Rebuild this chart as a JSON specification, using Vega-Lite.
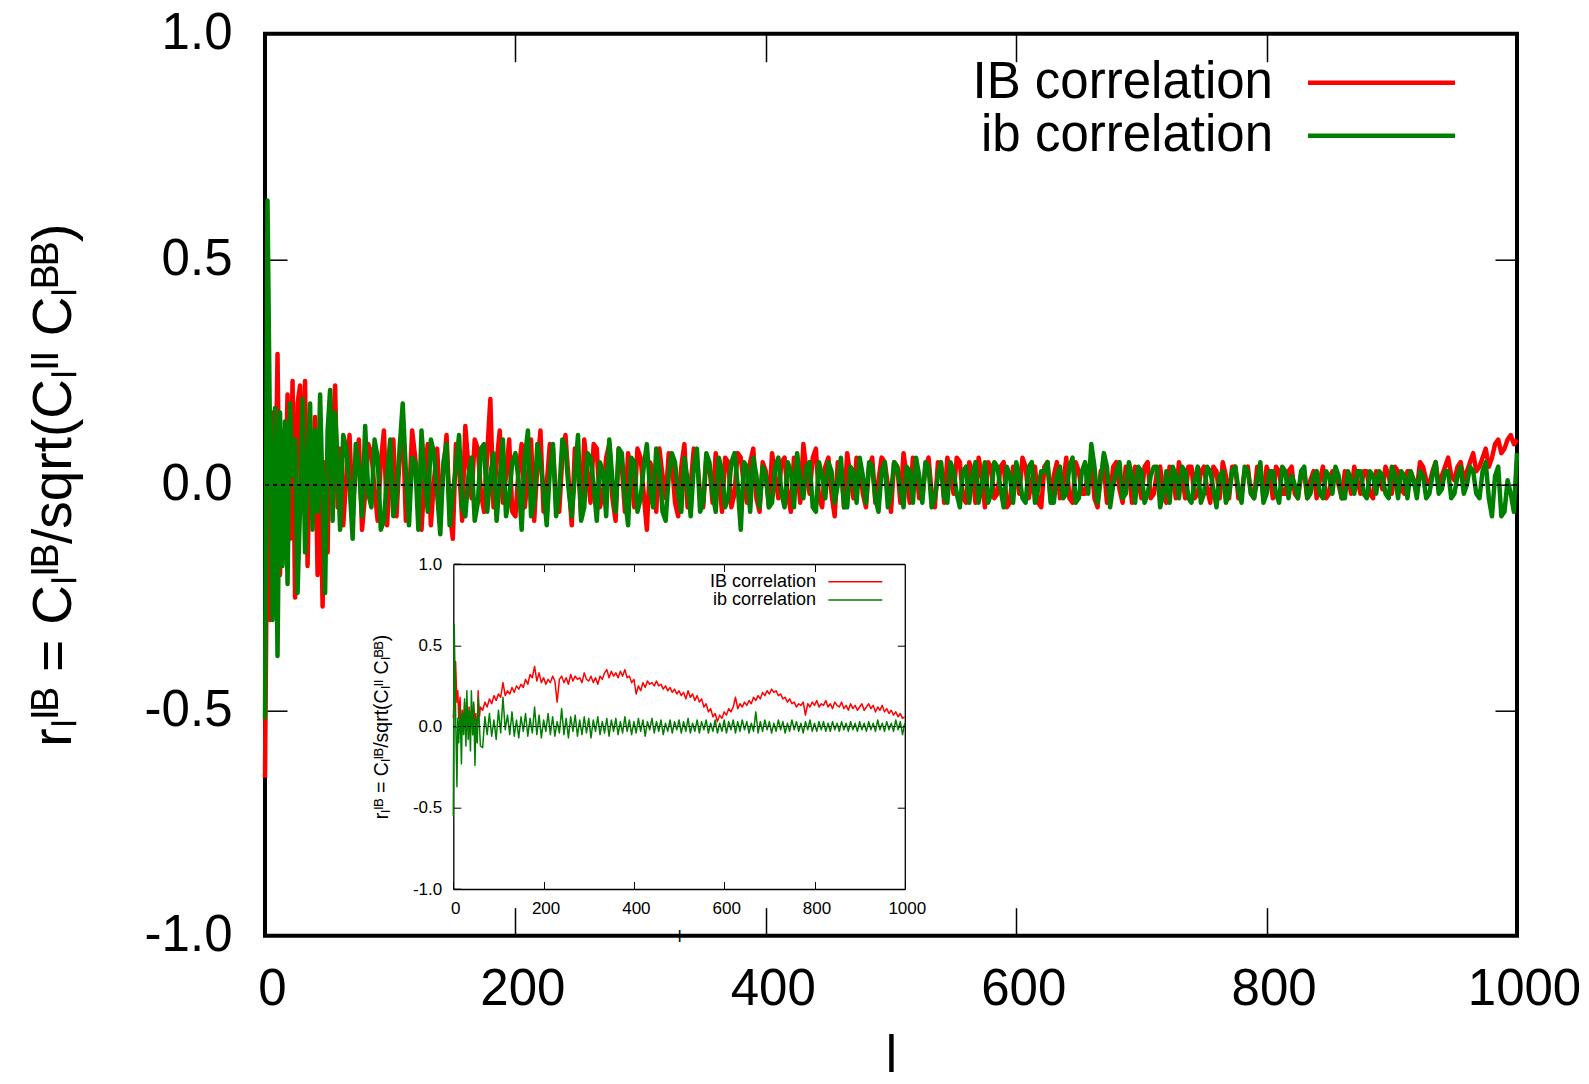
{
"$schema": "https://vega.github.io/schema/vega-lite/v6.json",
"width": 1252, "height": 902,
"autosize": {"type": "none"},
"padding": {"left": 265, "top": 33.7, "right": 72, "bottom": 148.3},
"background": "white",
"config": {
  "font": "Liberation Sans",
  "view": {"stroke": "black", "strokeWidth": 4},
  "axis": {"grid": false, "tickColor": "black", "labelColor": "black", "titleColor": "black", "domainColor": "black", "titleFontWeight": "normal", "labelFlush": false, "labelOverlap": false, "labelLimit": 500, "titleLimit": 2000},
  "legend": {"labelColor": "black", "labelLimit": 1000}
},
"datasets": {
"main": [
{"l":0,"a":-0.65,"b":-0.52},{"l":2,"a":0.05,"b":0.63},{"l":4,"a":-0.30,"b":0.10},{"l":6,"a":0.16,"b":-0.30},{"l":8,"a":-0.10,"b":0.17},{"l":10,"a":0.29,"b":-0.38},{"l":12,"a":-0.20,"b":0.16},{"l":14,"a":0.12,"b":-0.18},{"l":16,"a":-0.05,"b":0.14},{"l":18,"a":0.20,"b":-0.22},{"l":20,"a":-0.12,"b":0.18},{"l":22,"a":0.23,"b":0.02},{"l":24,"a":-0.25,"b":0.10},{"l":26,"a":0.18,"b":-0.24},{"l":28,"a":0.22,"b":-0.05},{"l":30,"a":-0.05,"b":0.19},{"l":32,"a":0.23,"b":-0.15},{"l":34,"a":-0.18,"b":0.05},{"l":36,"a":0.10,"b":0.18},{"l":38,"a":-0.05,"b":-0.10},{"l":40,"a":0.15,"b":0.12},{"l":42,"a":-0.20,"b":-0.06},{"l":44,"a":0.08,"b":0.20},{"l":46,"a":-0.27,"b":-0.02},{"l":48,"a":0.05,"b":-0.24},{"l":50,"a":-0.15,"b":0.12},{"l":52,"a":0.17,"b":0.21},{"l":54,"a":0.10,"b":-0.08},{"l":56,"a":0.22,"b":0.16},{"l":58,"a":-0.05,"b":0.05},{"l":60,"a":0.08,"b":-0.10},
{"l":65,"a":0.02,"b":0.08},{"l":70,"a":-0.06,"b":-0.12},{"l":75,"a":0.10,"b":0.04},{"l":80,"a":-0.02,"b":0.13},{"l":85,"a":0.07,"b":-0.05},{"l":90,"a":-0.08,"b":0.06},{"l":95,"a":0.12,"b":-0.08},{"l":100,"a":0.03,"b":0.10},{"l":105,"a":-0.07,"b":-0.03},{"l":110,"a":0.14,"b":0.18},{"l":115,"a":-0.04,"b":-0.09},{"l":120,"a":0.06,"b":0.05},{"l":125,"a":-0.10,"b":0.12},{"l":130,"a":0.09,"b":-0.06},{"l":135,"a":0.01,"b":0.07},{"l":140,"a":-0.05,"b":-0.11},{"l":145,"a":0.11,"b":0.09},{"l":150,"a":-0.12,"b":-0.02},{"l":155,"a":0.04,"b":0.11},{"l":160,"a":0.13,"b":-0.07},{"l":165,"a":-0.03,"b":0.06},{"l":170,"a":0.08,"b":-0.04},{"l":175,"a":-0.06,"b":0.09},{"l":180,"a":0.19,"b":0.02},{"l":185,"a":0.05,"b":-0.08},{"l":190,"a":-0.04,"b":0.10},{"l":195,"a":0.10,"b":-0.03},{"l":200,"a":-0.07,"b":0.07},
{"l":205,"a":0.09,"b":-0.10},{"l":210,"a":0.02,"b":0.12},{"l":215,"a":-0.08,"b":-0.04},{"l":220,"a":0.12,"b":0.05},{"l":225,"a":0.00,"b":-0.09},{"l":230,"a":0.08,"b":0.09},{"l":235,"a":-0.06,"b":-0.02},{"l":240,"a":0.11,"b":0.08},{"l":245,"a":-0.09,"b":-0.07},{"l":250,"a":0.05,"b":0.11},{"l":255,"a":0.10,"b":-0.05},{"l":260,"a":-0.04,"b":0.06},{"l":265,"a":0.08,"b":-0.08},{"l":270,"a":-0.02,"b":0.03},{"l":275,"a":0.09,"b":0.10},{"l":280,"a":-0.08,"b":-0.06},{"l":285,"a":0.04,"b":0.07},{"l":290,"a":0.07,"b":-0.09},{"l":295,"a":-0.05,"b":0.05},{"l":300,"a":0.06,"b":-0.03},
{"l":305,"a":-0.10,"b":0.09},{"l":310,"a":0.03,"b":-0.05},{"l":315,"a":0.08,"b":0.04},{"l":320,"a":-0.03,"b":-0.08},{"l":325,"a":0.05,"b":0.07},{"l":330,"a":-0.07,"b":-0.02},{"l":335,"a":0.09,"b":0.06},{"l":340,"a":0.00,"b":-0.07},{"l":345,"a":0.06,"b":0.08},{"l":350,"a":-0.05,"b":-0.04},{"l":355,"a":0.04,"b":0.05},{"l":360,"a":0.07,"b":-0.06},{"l":365,"a":-0.06,"b":0.03},{"l":370,"a":0.05,"b":-0.03},{"l":375,"a":-0.02,"b":0.07},{"l":380,"a":0.06,"b":-0.10},{"l":385,"a":-0.04,"b":0.04},{"l":390,"a":0.08,"b":0.06},{"l":395,"a":-0.06,"b":-0.05},{"l":400,"a":0.03,"b":0.02},
{"l":405,"a":0.07,"b":-0.04},{"l":410,"a":-0.03,"b":0.06},{"l":415,"a":0.06,"b":-0.05},{"l":420,"a":-0.06,"b":0.03},{"l":425,"a":0.04,"b":0.07},{"l":430,"a":0.09,"b":-0.03},{"l":435,"a":-0.02,"b":0.05},{"l":440,"a":0.08,"b":-0.06},{"l":445,"a":-0.05,"b":0.02},{"l":450,"a":0.06,"b":0.05},{"l":455,"a":-0.07,"b":-0.04},{"l":460,"a":0.04,"b":0.06},{"l":465,"a":0.07,"b":-0.05},{"l":470,"a":-0.03,"b":0.03},{"l":475,"a":0.05,"b":0.06},{"l":480,"a":-0.05,"b":-0.04},{"l":485,"a":0.06,"b":0.04},{"l":490,"a":0.01,"b":-0.06},{"l":495,"a":0.05,"b":0.05},{"l":500,"a":-0.06,"b":-0.02},
{"l":505,"a":0.04,"b":0.04},{"l":510,"a":0.07,"b":-0.05},{"l":515,"a":-0.04,"b":0.03},{"l":520,"a":0.05,"b":0.06},{"l":525,"a":-0.03,"b":-0.04},{"l":530,"a":0.06,"b":0.04},{"l":535,"a":-0.05,"b":-0.03},{"l":540,"a":0.04,"b":0.05},{"l":545,"a":0.06,"b":-0.04},{"l":550,"a":-0.02,"b":0.03},{"l":555,"a":0.05,"b":-0.05},{"l":560,"a":-0.04,"b":0.04},{"l":565,"a":0.03,"b":0.02},{"l":570,"a":0.06,"b":-0.04},{"l":575,"a":-0.05,"b":0.05},{"l":580,"a":0.04,"b":-0.02},{"l":585,"a":-0.02,"b":0.04},{"l":590,"a":0.05,"b":-0.05},{"l":595,"a":-0.04,"b":0.02},{"l":600,"a":0.03,"b":0.05},
{"l":605,"a":0.06,"b":-0.03},{"l":610,"a":-0.03,"b":0.04},{"l":615,"a":0.04,"b":-0.04},{"l":620,"a":-0.05,"b":0.03},{"l":625,"a":0.05,"b":0.05},{"l":630,"a":0.02,"b":-0.04},{"l":635,"a":-0.03,"b":0.04},{"l":640,"a":0.06,"b":-0.02},{"l":645,"a":-0.04,"b":0.06},{"l":650,"a":0.03,"b":-0.03},{"l":655,"a":-0.02,"b":0.05},{"l":660,"a":0.05,"b":0.09},{"l":665,"a":-0.05,"b":-0.04},{"l":670,"a":0.04,"b":0.07},{"l":675,"a":-0.02,"b":-0.05},{"l":680,"a":0.05,"b":0.03},{"l":685,"a":-0.04,"b":-0.03},{"l":690,"a":0.03,"b":0.05},{"l":695,"a":0.04,"b":-0.04},{"l":700,"a":-0.03,"b":0.03},
{"l":705,"a":0.05,"b":-0.02},{"l":710,"a":-0.02,"b":0.04},{"l":715,"a":0.04,"b":-0.05},{"l":720,"a":-0.04,"b":0.03},{"l":725,"a":0.03,"b":0.04},{"l":730,"a":0.05,"b":-0.03},{"l":735,"a":-0.03,"b":0.03},{"l":740,"a":0.04,"b":-0.04},{"l":745,"a":-0.02,"b":0.04},{"l":750,"a":0.04,"b":-0.02},{"l":755,"a":-0.04,"b":0.03},{"l":760,"a":0.03,"b":-0.05},{"l":765,"a":0.05,"b":0.03},{"l":770,"a":-0.03,"b":-0.02},{"l":775,"a":0.04,"b":0.04},{"l":780,"a":-0.02,"b":-0.04},{"l":785,"a":0.04,"b":0.03},{"l":790,"a":-0.03,"b":-0.03},{"l":795,"a":0.03,"b":0.05},{"l":800,"a":0.04,"b":-0.02},
{"l":805,"a":-0.03,"b":0.03},{"l":810,"a":0.03,"b":-0.04},{"l":815,"a":-0.02,"b":0.03},{"l":820,"a":0.04,"b":0.02},{"l":825,"a":-0.03,"b":-0.03},{"l":830,"a":0.03,"b":0.04},{"l":835,"a":0.01,"b":-0.02},{"l":840,"a":-0.03,"b":0.03},{"l":845,"a":0.04,"b":-0.03},{"l":850,"a":-0.02,"b":0.02},{"l":855,"a":0.03,"b":0.04},{"l":860,"a":-0.03,"b":-0.03},{"l":865,"a":0.02,"b":0.03},{"l":870,"a":0.04,"b":-0.02},{"l":875,"a":-0.02,"b":0.03},{"l":880,"a":0.03,"b":-0.03},{"l":885,"a":-0.03,"b":0.02},{"l":890,"a":0.02,"b":0.03},{"l":895,"a":0.04,"b":-0.02},{"l":900,"a":-0.02,"b":0.04},
{"l":905,"a":0.03,"b":-0.03},{"l":910,"a":-0.02,"b":0.02},{"l":915,"a":0.03,"b":0.03},{"l":920,"a":-0.01,"b":-0.03},{"l":925,"a":0.04,"b":0.02},{"l":930,"a":0.00,"b":-0.02},{"l":935,"a":0.05,"b":0.05},{"l":940,"a":0.02,"b":-0.01},{"l":945,"a":0.06,"b":0.03},{"l":950,"a":0.01,"b":-0.02},{"l":955,"a":0.05,"b":0.04},{"l":960,"a":0.03,"b":0.00},{"l":965,"a":0.07,"b":0.03},{"l":970,"a":0.04,"b":-0.03},{"l":975,"a":0.08,"b":0.05},{"l":980,"a":0.06,"b":-0.07},{"l":985,"a":0.10,"b":0.04},{"l":990,"a":0.08,"b":-0.06},{"l":995,"a":0.11,"b":-0.02},{"l":1000,"a":0.10,"b":0.07},
{"l":62.5,"a":-0.09,"b":0.11},{"l":67.5,"a":0.11,"b":0.00},{"l":72.5,"a":0.04,"b":0.09},{"l":77.5,"a":-0.10,"b":-0.07},{"l":82.5,"a":0.09,"b":-0.02},{"l":87.5,"a":-0.01,"b":0.10},{"l":92.5,"a":0.05,"b":-0.10},{"l":97.5,"a":-0.09,"b":0.02},{"l":102.5,"a":0.10,"b":-0.07},{"l":107.5,"a":0.06,"b":0.08},{"l":112.5,"a":-0.08,"b":0.03},{"l":117.5,"a":0.12,"b":0.06},{"l":122.5,"a":-0.03,"b":-0.10},{"l":127.5,"a":0.02,"b":0.02},{"l":132.5,"a":-0.09,"b":0.10},{"l":137.5,"a":0.08,"b":-0.02},{"l":142.5,"a":0.03,"b":0.05},{"l":147.5,"a":-0.06,"b":-0.09},{"l":152.5,"a":0.09,"b":0.04},{"l":157.5,"a":-0.08,"b":-0.05},{"l":162.5,"a":0.04,"b":0.02},{"l":167.5,"a":0.10,"b":-0.08},{"l":172.5,"a":-0.02,"b":0.08},{"l":177.5,"a":0.07,"b":-0.06},{"l":182.5,"a":-0.05,"b":0.07},{"l":187.5,"a":0.12,"b":0.01},{"l":192.5,"a":0.02,"b":-0.07},{"l":197.5,"a":-0.06,"b":0.05},
{"l":202.5,"a":0.03,"b":0.01},{"l":207.5,"a":-0.05,"b":0.06},{"l":212.5,"a":0.10,"b":-0.07},{"l":217.5,"a":0.04,"b":0.09},{"l":222.5,"a":-0.06,"b":-0.01},{"l":227.5,"a":0.09,"b":0.03},{"l":232.5,"a":-0.03,"b":-0.07},{"l":237.5,"a":0.06,"b":0.10},{"l":242.5,"a":0.01,"b":-0.01},{"l":247.5,"a":0.08,"b":0.02},{"l":252.5,"a":-0.07,"b":-0.08},{"l":257.5,"a":0.03,"b":0.07},{"l":262.5,"a":0.09,"b":0.00},{"l":267.5,"a":-0.05,"b":0.05},{"l":272.5,"a":0.06,"b":-0.07},{"l":277.5,"a":-0.03,"b":0.01},{"l":282.5,"a":0.08,"b":0.08},{"l":287.5,"a":-0.06,"b":-0.03},{"l":292.5,"a":0.02,"b":0.06},{"l":297.5,"a":0.08,"b":-0.06},
{"l":302.5,"a":-0.02,"b":0.04},{"l":307.5,"a":0.05,"b":-0.01},{"l":312.5,"a":-0.06,"b":0.08},{"l":317.5,"a":0.02,"b":-0.06},{"l":322.5,"a":0.07,"b":0.02},{"l":327.5,"a":-0.04,"b":0.05},{"l":332.5,"a":0.04,"b":-0.06},{"l":337.5,"a":-0.05,"b":0.01},{"l":342.5,"a":0.08,"b":0.04},{"l":347.5,"a":-0.02,"b":-0.06},{"l":352.5,"a":0.06,"b":0.07},{"l":357.5,"a":-0.04,"b":-0.02},{"l":362.5,"a":0.02,"b":0.06},{"l":367.5,"a":0.06,"b":-0.05},{"l":372.5,"a":-0.05,"b":0.05},{"l":377.5,"a":0.07,"b":0.00},{"l":382.5,"a":0.00,"b":0.05},{"l":387.5,"a":0.05,"b":-0.06},{"l":392.5,"a":-0.03,"b":0.02},{"l":397.5,"a":0.05,"b":0.04},
{"l":402.5,"a":-0.05,"b":-0.05},{"l":407.5,"a":0.02,"b":0.04},{"l":412.5,"a":0.05,"b":-0.02},{"l":417.5,"a":-0.02,"b":0.05},{"l":422.5,"a":0.06,"b":-0.05},{"l":427.5,"a":-0.04,"b":0.01},{"l":432.5,"a":0.03,"b":0.04},{"l":437.5,"a":0.06,"b":-0.05},{"l":442.5,"a":-0.03,"b":0.05},{"l":447.5,"a":0.04,"b":-0.03},{"l":452.5,"a":-0.02,"b":0.03},{"l":457.5,"a":0.05,"b":0.00},{"l":462.5,"a":-0.05,"b":-0.05},{"l":467.5,"a":0.02,"b":0.04},{"l":472.5,"a":0.06,"b":-0.04},{"l":477.5,"a":-0.02,"b":0.02},{"l":482.5,"a":0.04,"b":0.05},{"l":487.5,"a":-0.04,"b":-0.03},{"l":492.5,"a":0.06,"b":0.03},{"l":497.5,"a":0.00,"b":-0.05},
{"l":502.5,"a":0.05,"b":0.05},{"l":507.5,"a":-0.04,"b":-0.01},{"l":512.5,"a":0.02,"b":0.04},{"l":517.5,"a":0.06,"b":-0.04},{"l":522.5,"a":-0.03,"b":0.02},{"l":527.5,"a":0.04,"b":0.05},{"l":532.5,"a":-0.02,"b":-0.05},{"l":537.5,"a":0.05,"b":0.02},{"l":542.5,"a":-0.04,"b":-0.03},{"l":547.5,"a":0.03,"b":0.05},{"l":552.5,"a":0.06,"b":-0.02},{"l":557.5,"a":-0.03,"b":0.03},{"l":562.5,"a":0.05,"b":-0.04},{"l":567.5,"a":-0.04,"b":0.05},{"l":572.5,"a":0.02,"b":0.00},{"l":577.5,"a":0.05,"b":-0.04},{"l":582.5,"a":-0.03,"b":0.05},{"l":587.5,"a":0.04,"b":-0.01},{"l":592.5,"a":-0.05,"b":0.04},{"l":597.5,"a":0.04,"b":-0.04},
{"l":602.5,"a":-0.02,"b":0.02},{"l":607.5,"a":0.04,"b":-0.04},{"l":612.5,"a":0.01,"b":0.05},{"l":617.5,"a":-0.04,"b":-0.01},{"l":622.5,"a":0.04,"b":0.03},{"l":627.5,"a":-0.03,"b":-0.04},{"l":632.5,"a":0.05,"b":0.02},{"l":637.5,"a":0.00,"b":-0.03},{"l":642.5,"a":-0.03,"b":0.04},{"l":647.5,"a":0.05,"b":-0.04},{"l":652.5,"a":-0.02,"b":0.03},{"l":657.5,"a":0.04,"b":-0.02},{"l":662.5,"a":-0.03,"b":0.04},{"l":667.5,"a":0.03,"b":0.01},{"l":672.5,"a":-0.04,"b":0.04},{"l":677.5,"a":0.04,"b":0.00},{"l":682.5,"a":-0.01,"b":0.05},{"l":687.5,"a":0.04,"b":-0.02},{"l":692.5,"a":-0.04,"b":0.02},{"l":697.5,"a":0.01,"b":0.04},
{"l":702.5,"a":0.04,"b":-0.04},{"l":707.5,"a":-0.03,"b":0.02},{"l":712.5,"a":0.03,"b":0.04},{"l":717.5,"a":-0.02,"b":-0.02},{"l":722.5,"a":0.04,"b":-0.04},{"l":727.5,"a":-0.03,"b":0.02},{"l":732.5,"a":0.02,"b":0.04},{"l":737.5,"a":0.04,"b":-0.03},{"l":742.5,"a":-0.03,"b":0.01},{"l":747.5,"a":0.03,"b":-0.04},{"l":752.5,"a":-0.01,"b":0.04},{"l":757.5,"a":0.04,"b":-0.01},{"l":762.5,"a":-0.03,"b":0.02},{"l":767.5,"a":0.02,"b":-0.04},{"l":772.5,"a":0.04,"b":0.03},{"l":777.5,"a":-0.03,"b":-0.01},{"l":782.5,"a":0.03,"b":0.04},{"l":787.5,"a":-0.02,"b":-0.02},{"l":792.5,"a":0.04,"b":0.01},{"l":797.5,"a":-0.03,"b":-0.04},
{"l":802.5,"a":0.02,"b":0.03},{"l":807.5,"a":0.04,"b":-0.02},{"l":812.5,"a":-0.02,"b":0.04},{"l":817.5,"a":0.03,"b":-0.03},{"l":822.5,"a":-0.02,"b":0.00},{"l":827.5,"a":0.02,"b":0.03},{"l":832.5,"a":-0.03,"b":-0.03},{"l":837.5,"a":0.03,"b":0.02},{"l":842.5,"a":0.01,"b":-0.02},{"l":847.5,"a":-0.03,"b":0.03},{"l":852.5,"a":0.03,"b":-0.02},{"l":857.5,"a":0.00,"b":0.02},{"l":862.5,"a":0.03,"b":-0.03},{"l":867.5,"a":-0.02,"b":0.01},{"l":872.5,"a":0.01,"b":0.03},{"l":877.5,"a":0.03,"b":-0.02},{"l":882.5,"a":-0.02,"b":0.03},{"l":887.5,"a":0.03,"b":-0.02},{"l":892.5,"a":-0.01,"b":0.02},{"l":897.5,"a":0.02,"b":-0.03},
{"l":902.5,"a":0.04,"b":0.02},{"l":907.5,"a":-0.01,"b":0.03},{"l":912.5,"a":0.03,"b":-0.03},{"l":917.5,"a":0.01,"b":0.01},{"l":922.5,"a":0.05,"b":0.03},{"l":927.5,"a":0.01,"b":-0.03},{"l":932.5,"a":0.03,"b":0.02},{"l":937.5,"a":0.00,"b":-0.02},{"l":942.5,"a":0.04,"b":0.03},{"l":947.5,"a":0.02,"b":-0.03},{"l":952.5,"a":0.04,"b":0.02},{"l":957.5,"a":0.01,"b":-0.02},{"l":962.5,"a":0.05,"b":0.04},{"l":967.5,"a":0.03,"b":-0.02},{"l":972.5,"a":0.06,"b":0.03},{"l":977.5,"a":0.04,"b":-0.03},{"l":982.5,"a":0.09,"b":0.02},{"l":987.5,"a":0.07,"b":-0.07},{"l":992.5,"a":0.10,"b":0.01},{"l":997.5,"a":0.09,"b":-0.06}
],
"inset": [
{"l":0,"a":0.05,"b":-0.55},{"l":2,"a":0.20,"b":0.63},{"l":5,"a":0.40,"b":0.10},{"l":8,"a":0.15,"b":-0.37},{"l":10,"a":0.22,"b":0.05},{"l":12,"a":0.05,"b":-0.10},{"l":15,"a":0.18,"b":0.12},{"l":18,"a":-0.05,"b":-0.23},{"l":20,"a":0.10,"b":0.08},{"l":23,"a":0.02,"b":-0.05},{"l":25,"a":0.15,"b":0.17},{"l":28,"a":-0.06,"b":-0.12},{"l":30,"a":0.08,"b":0.22},{"l":33,"a":-0.02,"b":-0.08},{"l":35,"a":0.12,"b":0.10},{"l":38,"a":0.00,"b":-0.15},{"l":40,"a":0.10,"b":0.22},{"l":43,"a":-0.05,"b":-0.05},{"l":45,"a":0.14,"b":0.15},{"l":48,"a":0.02,"b":-0.24},{"l":50,"a":0.08,"b":0.05},{"l":53,"a":-0.10,"b":-0.10},{"l":55,"a":0.22,"b":0.18},{"l":58,"a":0.06,"b":0.00},{"l":60,"a":0.12,"b":-0.12},
{"l":65,"a":0.10,"b":-0.13},{"l":70,"a":0.15,"b":0.06},{"l":75,"a":0.12,"b":-0.05},{"l":80,"a":0.17,"b":0.08},{"l":85,"a":0.14,"b":-0.06},{"l":90,"a":0.19,"b":0.04},{"l":95,"a":0.16,"b":-0.08},{"l":100,"a":0.20,"b":0.10},{"l":105,"a":0.18,"b":-0.04},{"l":110,"a":0.27,"b":0.18},{"l":115,"a":0.19,"b":-0.02},{"l":120,"a":0.22,"b":0.07},{"l":125,"a":0.20,"b":-0.05},{"l":130,"a":0.24,"b":0.09},{"l":135,"a":0.21,"b":-0.06},{"l":140,"a":0.25,"b":0.04},{"l":145,"a":0.23,"b":-0.07},{"l":150,"a":0.26,"b":0.06},{"l":155,"a":0.24,"b":-0.03},{"l":160,"a":0.29,"b":0.08},{"l":165,"a":0.26,"b":-0.06},{"l":170,"a":0.32,"b":0.05},{"l":175,"a":0.30,"b":-0.04},{"l":180,"a":0.37,"b":0.12},{"l":185,"a":0.28,"b":-0.05},{"l":190,"a":0.33,"b":0.07},{"l":195,"a":0.27,"b":-0.07},{"l":200,"a":0.30,"b":0.04},
{"l":205,"a":0.26,"b":-0.03},{"l":210,"a":0.29,"b":0.08},{"l":215,"a":0.27,"b":-0.05},{"l":220,"a":0.31,"b":0.06},{"l":225,"a":0.28,"b":-0.06},{"l":230,"a":0.15,"b":0.03},{"l":235,"a":0.29,"b":-0.04},{"l":240,"a":0.31,"b":0.11},{"l":245,"a":0.27,"b":-0.05},{"l":250,"a":0.30,"b":0.05},{"l":255,"a":0.26,"b":-0.07},{"l":260,"a":0.32,"b":0.06},{"l":265,"a":0.28,"b":-0.03},{"l":270,"a":0.31,"b":0.07},{"l":275,"a":0.29,"b":-0.06},{"l":280,"a":0.30,"b":0.04},{"l":285,"a":0.27,"b":-0.05},{"l":290,"a":0.33,"b":0.06},{"l":295,"a":0.29,"b":-0.04},{"l":300,"a":0.28,"b":0.05},
{"l":305,"a":0.31,"b":-0.07},{"l":310,"a":0.27,"b":0.04},{"l":315,"a":0.30,"b":-0.03},{"l":320,"a":0.26,"b":0.06},{"l":325,"a":0.31,"b":-0.05},{"l":330,"a":0.29,"b":0.03},{"l":335,"a":0.33,"b":-0.04},{"l":340,"a":0.35,"b":0.05},{"l":345,"a":0.30,"b":-0.06},{"l":350,"a":0.34,"b":0.04},{"l":355,"a":0.31,"b":-0.03},{"l":360,"a":0.33,"b":0.05},{"l":365,"a":0.30,"b":-0.05},{"l":370,"a":0.34,"b":0.03},{"l":375,"a":0.31,"b":-0.04},{"l":380,"a":0.35,"b":0.06},{"l":385,"a":0.30,"b":-0.03},{"l":390,"a":0.31,"b":0.04},{"l":395,"a":0.27,"b":-0.05},{"l":400,"a":0.29,"b":0.03},
{"l":405,"a":0.20,"b":-0.04},{"l":410,"a":0.25,"b":0.05},{"l":415,"a":0.22,"b":-0.03},{"l":420,"a":0.27,"b":0.04},{"l":425,"a":0.24,"b":-0.06},{"l":430,"a":0.28,"b":0.03},{"l":435,"a":0.26,"b":-0.02},{"l":440,"a":0.27,"b":0.05},{"l":445,"a":0.25,"b":-0.04},{"l":450,"a":0.28,"b":0.03},{"l":455,"a":0.25,"b":-0.03},{"l":460,"a":0.26,"b":0.04},{"l":465,"a":0.23,"b":-0.05},{"l":470,"a":0.25,"b":0.02},{"l":475,"a":0.22,"b":-0.03},{"l":480,"a":0.24,"b":0.04},{"l":485,"a":0.21,"b":-0.04},{"l":490,"a":0.23,"b":0.03},{"l":495,"a":0.20,"b":-0.02},{"l":500,"a":0.22,"b":0.04},
{"l":505,"a":0.19,"b":-0.04},{"l":510,"a":0.21,"b":0.03},{"l":515,"a":0.17,"b":-0.03},{"l":520,"a":0.22,"b":0.05},{"l":525,"a":0.18,"b":-0.04},{"l":530,"a":0.20,"b":0.02},{"l":535,"a":0.16,"b":-0.03},{"l":540,"a":0.19,"b":0.04},{"l":545,"a":0.15,"b":-0.04},{"l":550,"a":0.17,"b":0.03},{"l":555,"a":0.12,"b":-0.02},{"l":560,"a":0.14,"b":0.04},{"l":565,"a":0.09,"b":-0.04},{"l":570,"a":0.11,"b":0.02},{"l":575,"a":0.06,"b":-0.03},{"l":580,"a":0.08,"b":0.04},{"l":585,"a":0.03,"b":-0.04},{"l":590,"a":0.07,"b":0.02},{"l":595,"a":0.05,"b":-0.03},{"l":600,"a":0.09,"b":0.04},
{"l":605,"a":0.07,"b":-0.04},{"l":610,"a":0.11,"b":0.03},{"l":615,"a":0.09,"b":-0.02},{"l":620,"a":0.12,"b":0.04},{"l":625,"a":0.18,"b":-0.04},{"l":630,"a":0.11,"b":0.03},{"l":635,"a":0.14,"b":-0.03},{"l":640,"a":0.12,"b":0.04},{"l":645,"a":0.15,"b":-0.02},{"l":650,"a":0.13,"b":0.03},{"l":655,"a":0.16,"b":-0.04},{"l":660,"a":0.14,"b":0.02},{"l":665,"a":0.18,"b":-0.03},{"l":670,"a":0.16,"b":0.09},{"l":675,"a":0.19,"b":-0.04},{"l":680,"a":0.17,"b":0.03},{"l":685,"a":0.21,"b":-0.03},{"l":690,"a":0.19,"b":0.04},{"l":695,"a":0.22,"b":-0.02},{"l":700,"a":0.20,"b":0.03},
{"l":705,"a":0.23,"b":-0.04},{"l":710,"a":0.21,"b":0.02},{"l":715,"a":0.22,"b":-0.03},{"l":720,"a":0.19,"b":0.04},{"l":725,"a":0.20,"b":-0.02},{"l":730,"a":0.17,"b":0.03},{"l":735,"a":0.18,"b":-0.04},{"l":740,"a":0.15,"b":0.02},{"l":745,"a":0.17,"b":-0.03},{"l":750,"a":0.14,"b":0.04},{"l":755,"a":0.15,"b":-0.02},{"l":760,"a":0.12,"b":0.03},{"l":765,"a":0.14,"b":-0.03},{"l":770,"a":0.13,"b":0.02},{"l":775,"a":0.15,"b":-0.04},{"l":780,"a":0.07,"b":0.03},{"l":785,"a":0.14,"b":-0.02},{"l":790,"a":0.12,"b":0.04},{"l":795,"a":0.15,"b":-0.03},{"l":800,"a":0.13,"b":0.02},
{"l":805,"a":0.16,"b":-0.03},{"l":810,"a":0.12,"b":0.03},{"l":815,"a":0.14,"b":-0.02},{"l":820,"a":0.13,"b":0.03},{"l":825,"a":0.16,"b":-0.03},{"l":830,"a":0.12,"b":0.02},{"l":835,"a":0.14,"b":-0.03},{"l":840,"a":0.11,"b":0.03},{"l":845,"a":0.15,"b":-0.02},{"l":850,"a":0.13,"b":0.02},{"l":855,"a":0.12,"b":-0.03},{"l":860,"a":0.15,"b":0.03},{"l":865,"a":0.11,"b":-0.02},{"l":870,"a":0.13,"b":0.02},{"l":875,"a":0.10,"b":-0.03},{"l":880,"a":0.14,"b":0.03},{"l":885,"a":0.11,"b":-0.02},{"l":890,"a":0.13,"b":0.02},{"l":895,"a":0.10,"b":-0.03},{"l":900,"a":0.12,"b":0.03},
{"l":905,"a":0.14,"b":-0.02},{"l":910,"a":0.10,"b":0.02},{"l":915,"a":0.12,"b":-0.03},{"l":920,"a":0.14,"b":0.03},{"l":925,"a":0.11,"b":-0.02},{"l":930,"a":0.13,"b":0.02},{"l":935,"a":0.09,"b":-0.03},{"l":940,"a":0.12,"b":0.04},{"l":945,"a":0.10,"b":-0.02},{"l":950,"a":0.13,"b":0.02},{"l":955,"a":0.09,"b":-0.03},{"l":960,"a":0.11,"b":0.03},{"l":965,"a":0.08,"b":-0.02},{"l":970,"a":0.10,"b":0.02},{"l":975,"a":0.07,"b":-0.03},{"l":980,"a":0.09,"b":0.04},{"l":985,"a":0.06,"b":-0.02},{"l":990,"a":0.08,"b":0.03},{"l":995,"a":0.05,"b":-0.05},{"l":1000,"a":0.06,"b":0.02}
]
},
"layer": [
{
  "data": {"name": "main"},
  "layer": [
    {
      "mark": {"type": "line", "strokeWidth": 4.5, "strokeJoin": "round"},
      "encoding": {
        "x": {"field": "l", "type": "quantitative", "scale": {"domain": [0, 1000], "nice": false, "zero": false},
          "axis": {"orient": "bottom", "values": [0, 200, 400, 600, 800, 1000], "format": "d", "domain": false, "tickSize": -28, "tickWidth": 1.5, "labelFontSize": 51, "labelPadding": 57, "labelOffset": 7, "title": "l", "titleFontSize": 51, "titlePadding": 17}},
        "y": {"field": "a", "type": "quantitative", "scale": {"domain": [-1, 1], "nice": false, "zero": false},
          "axis": {"orient": "left", "values": [-1, -0.5, 0, 0.5, 1], "labelExpr": "datum.value < 0 ? '-' + format(-datum.value, '.1f') : format(datum.value, '.1f')", "domain": false, "tickSize": -22, "tickWidth": 1.5, "labelFontSize": 51, "labelPadding": 55, "title": "rₗᴵᴮ = Cₗᴵᴮ/sqrt(Cₗᴵᴵ Cₗᴮᴮ)", "titleFontSize": 55, "titlePadding": 62}},
        "color": {"datum": "IB correlation", "type": "nominal", "scale": {"domain": ["IB correlation", "ib correlation"], "range": ["#ff0000", "#008000"]},
          "legend": {"orient": "none", "legendX": 710, "legendY": 23.5, "direction": "vertical", "title": null, "padding": 0, "symbolType": "M-3.196,0H3.196", "symbolSize": 2116, "symbolStrokeWidth": 4.5, "symbolOffset": 381, "labelFontSize": 51, "labelAlign": "right", "labelOffset": -134, "rowPadding": 1}}
      }
    },
    {
      "mark": {"type": "line", "strokeWidth": 4.5, "strokeJoin": "round"},
      "encoding": {
        "x": {"field": "l", "type": "quantitative", "axis": null},
        "y": {"field": "b", "type": "quantitative", "axis": null},
        "color": {"datum": "ib correlation", "type": "nominal",
          "legend": {"orient": "none", "legendX": 710, "legendY": 23.5, "direction": "vertical", "title": null, "padding": 0, "symbolType": "M-3.196,0H3.196", "symbolSize": 2116, "symbolStrokeWidth": 4.5, "symbolOffset": 381, "labelFontSize": 51, "labelAlign": "right", "labelOffset": -134, "rowPadding": 1}}
      }
    },
    {
      "mark": {"type": "rule", "color": "black", "strokeWidth": 1, "strokeDash": [4, 4]},
      "encoding": {"y": {"datum": 0, "type": "quantitative", "axis": null}}
    },
    {
      "mark": {"type": "point", "opacity": 0},
      "encoding": {
        "x": {"datum": 0, "type": "quantitative", "axis": {"orient": "top", "values": [200, 400, 600, 800], "labels": false, "domain": false, "tickSize": -28, "tickWidth": 1.5, "title": null}},
        "y": {"datum": 0, "type": "quantitative", "axis": {"orient": "right", "values": [-0.5, 0, 0.5], "labels": false, "domain": false, "tickSize": -22, "tickWidth": 1.5, "title": null}}
      }
    }
  ]
},
{
  "data": {"name": "inset"},
  "layer": [
    {
      "mark": {"type": "line", "strokeWidth": 1.5, "strokeJoin": "round"},
      "encoding": {
        "x": {"field": "l", "type": "quantitative", "scale": {"domain": [0, 1000], "nice": false, "zero": false, "range": [188.3, 639.8]},
          "axis": {"orient": "bottom", "offset": -46.7, "values": [0, 200, 400, 600, 800, 1000], "format": "d", "domain": true, "domainWidth": 1.3, "tickSize": -7.5, "tickWidth": 1, "labelFontSize": 17, "labelPadding": 19.3, "labelOffset": 2, "title": "l", "titleFontSize": 17, "titlePadding": 12}},
        "y": {"field": "a", "type": "quantitative", "scale": {"domain": [-1, 1], "nice": false, "zero": false, "range": [855.3, 530.3]},
          "axis": {"orient": "left", "offset": -188.3, "values": [-1, -0.5, 0, 0.5, 1], "labelExpr": "datum.value < 0 ? '-' + format(-datum.value, '.1f') : format(datum.value, '.1f')", "domain": true, "domainWidth": 1.3, "tickSize": -7.5, "tickWidth": 1, "labelFontSize": 17, "labelPadding": 19.1, "title": "rₗᴵᴮ = Cₗᴵᴮ/sqrt(Cₗᴵᴵ Cₗᴮᴮ)", "titleFontSize": 19.5, "titlePadding": 21}},
        "color": {"datum": "IB correlation", "type": "nominal", "scale": {"domain": ["IB correlation", "ib correlation"], "range": ["#ff0000", "#008000"]},
          "legend": {"orient": "none", "legendX": 442.7, "legendY": 539, "direction": "vertical", "title": null, "padding": 0, "symbolType": "M-3.375,0H3.375", "symbolSize": 256, "symbolStrokeWidth": 1.5, "symbolOffset": 138.6, "labelFontSize": 18, "labelAlign": "right", "labelOffset": -48.3, "rowPadding": 0.3}}
      }
    },
    {
      "mark": {"type": "line", "strokeWidth": 1.5, "strokeJoin": "round"},
      "encoding": {
        "x": {"field": "l", "type": "quantitative", "axis": null},
        "y": {"field": "b", "type": "quantitative", "axis": null},
        "color": {"datum": "ib correlation", "type": "nominal",
          "legend": {"orient": "none", "legendX": 442.7, "legendY": 539, "direction": "vertical", "title": null, "padding": 0, "symbolType": "M-3.375,0H3.375", "symbolSize": 256, "symbolStrokeWidth": 1.5, "symbolOffset": 138.6, "labelFontSize": 18, "labelAlign": "right", "labelOffset": -48.3, "rowPadding": 0.3}}
      }
    },
    {
      "mark": {"type": "rule", "color": "black", "strokeWidth": 1, "strokeDash": [2, 3]},
      "encoding": {"x": {"datum": 0, "type": "quantitative", "axis": null}, "x2": {"datum": 1000}, "y": {"datum": 0, "type": "quantitative", "axis": null}}
    },
    {
      "mark": {"type": "point", "opacity": 0},
      "encoding": {
        "x": {"datum": 0, "type": "quantitative", "axis": {"orient": "top", "offset": -530.3, "values": [200, 400, 600, 800], "labels": false, "domain": true, "domainWidth": 1.3, "tickSize": -7.5, "tickWidth": 1, "title": null}},
        "y": {"datum": 0, "type": "quantitative", "axis": {"orient": "right", "offset": -612.2, "values": [-0.5, 0, 0.5], "labels": false, "domain": true, "domainWidth": 1.3, "tickSize": -7.5, "tickWidth": 1, "title": null}}
      }
    }
  ]
}
],
"resolve": {"scale": {"x": "independent", "y": "independent", "color": "independent"}, "axis": {"x": "independent", "y": "independent"}, "legend": {"color": "independent"}}
}
